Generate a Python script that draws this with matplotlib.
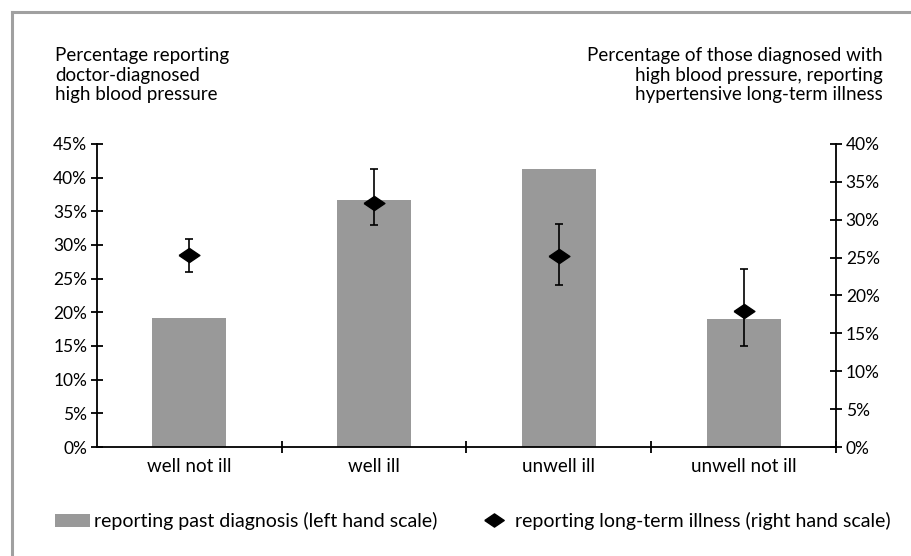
import matplotlib
matplotlib.use("Agg")
import matplotlib.pyplot as plt
from matplotlib.patches import Patch
from matplotlib.lines import Line2D
from matplotlib.ticker import FixedLocator, PercentFormatter

plt.rcParams['font.family'] = ['Lato', 'DejaVu Sans']

categories = ["well not ill", "well ill", "unwell ill", "unwell not ill"]
diagnosis_pct = [19.2, 36.7, 41.3, 19.0]          # left scale
longterm_pct = [25.3, 32.2, 25.2, 17.9]           # right scale
longterm_upper = [27.5, 36.7, 29.4, 23.5]
longterm_lower = [23.1, 29.3, 21.4, 13.3]

left_ticks = [0, 5, 10, 15, 20, 25, 30, 35, 40, 45]
right_ticks = [0, 5, 10, 15, 20, 25, 30, 35, 40]

W, H = 911, 556
fig = plt.figure(figsize=(W / 100, H / 100), dpi=100)
fig.patch.set_facecolor("white")

ax = fig.add_axes([97 / W, 1 - 447 / H, (836 - 97) / W, (447 - 144) / H])
ax2 = ax.twinx()

diamond = [(-1, 0), (0, 0.68), (1, 0), (0, -0.68), (-1, 0)]

x = list(range(len(categories)))
ax.bar(x, diagnosis_pct, width=0.4, color="#999999", zorder=2)
ax.set_xlim(-0.5, 3.5)
ax.set_ylim(0, 45)
ax.yaxis.set_major_locator(FixedLocator(left_ticks))
ax.yaxis.set_major_formatter(PercentFormatter(decimals=0))

yerr = [[v - lo for v, lo in zip(longterm_pct, longterm_lower)],
        [hi - v for v, hi in zip(longterm_pct, longterm_upper)]]
ax2.errorbar(x, longterm_pct, yerr=yerr, fmt="none",
             ecolor="black", elinewidth=1.2, capsize=3, capthick=1.2, zorder=3)
ax2.plot(x, longterm_pct, linestyle="none", marker=diamond, ms=15,
         color="black", zorder=4)
ax2.set_ylim(0, 40)
ax2.yaxis.set_major_locator(FixedLocator(right_ticks))
ax2.yaxis.set_major_formatter(PercentFormatter(decimals=0))

for a in (ax, ax2):
    a.spines["top"].set_visible(False)
    a.set_facecolor("none")
ax.spines["right"].set_visible(False)
ax2.spines["left"].set_visible(False)
for s in ("left", "bottom"):
    ax.spines[s].set_linewidth(1.3)
ax2.spines["right"].set_linewidth(1.3)
ax2.spines["bottom"].set_visible(False)

ax.tick_params(axis="y", direction="inout", length=8, width=1.3, labelsize=12.5, pad=3)
ax2.tick_params(axis="y", direction="inout", length=8, width=1.3, labelsize=12.5, pad=3)

ax.set_xticks(x)
ax.set_xticklabels(categories, fontsize=13.5)
ax.set_xticks([0.5, 1.5, 2.5, 3.5], minor=True)
ax.tick_params(axis="x", which="major", length=0, pad=8)
ax.tick_params(axis="x", which="minor", direction="inout", length=8, width=1.3)

fig.text(55 / W, 1 - 75 / H,
         "Percentage reporting\ndoctor-diagnosed\nhigh blood pressure",
         ha="left", va="center", fontsize=13.5, linespacing=1.2)
fig.text(883 / W, 1 - 75 / H,
         "Percentage of those diagnosed with\nhigh blood pressure, reporting\nhypertensive long-term illness",
         ha="right", va="center", fontsize=13.5, linespacing=1.2, multialignment="right")

handles = [Patch(facecolor="#999999", edgecolor="none"),
           Line2D([], [], marker=diamond, color="black", linestyle="none", markersize=14)]
labels = ["reporting past diagnosis (left hand scale)",
          "reporting long-term illness (right hand scale)"]
fig.legend(handles, labels, loc="center left", bbox_to_anchor=(55 / W, 1 - 521 / H),
           ncol=2, frameon=False, fontsize=14, handlelength=1.8, handletextpad=0.2,
           columnspacing=2.0, handleheight=0.65, borderpad=0, borderaxespad=0)

# gray frame (top and left)
fig.add_artist(Line2D([12 / W, 1], [1 - 12 / H, 1 - 12 / H], color="#a0a0a0", lw=2.2,
                      transform=fig.transFigure))
fig.add_artist(Line2D([12 / W, 12 / W], [0, 1 - 12 / H], color="#a0a0a0", lw=2.2,
                      transform=fig.transFigure))

fig.savefig("out.png", dpi=100)
